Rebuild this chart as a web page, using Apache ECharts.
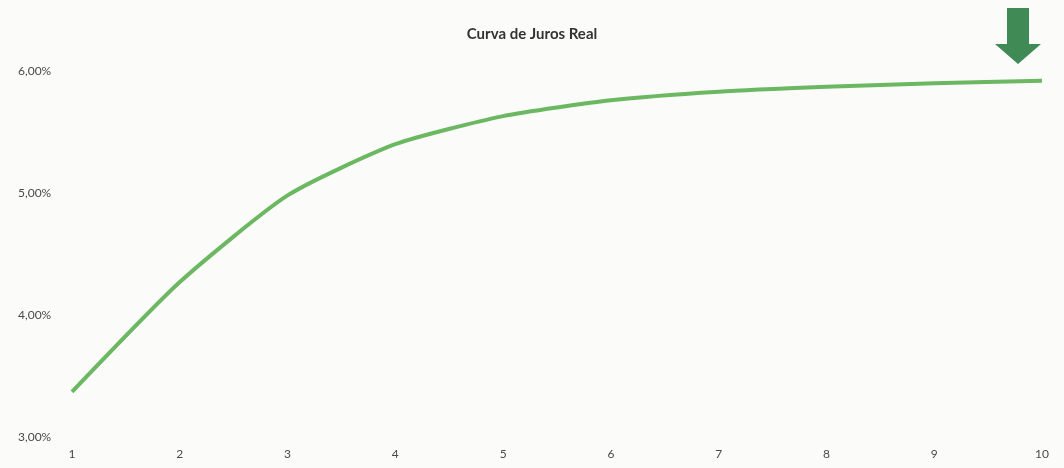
<!DOCTYPE html>
<html>
<head>
<meta charset="utf-8">
<title>Curva de Juros Real</title>
<script src="https://cdn.jsdelivr.net/npm/echarts@6/dist/echarts.min.js"></script>
<style>
  html, body { margin: 0; padding: 0; background: #fbfbf9; }
  #chart { width: 1064px; height: 468px; }
</style>
</head>
<body>
<div id="chart"></div>
<script>
// prazos (anos)
var prazos = ["1", "2", "3", "4", "5", "6", "7", "8", "9", "10"];
// taxa real (%)
var taxas = [3.37, 4.27, 4.98, 5.40, 5.63, 5.76, 5.83, 5.87, 5.90, 5.92];
// ticks do eixo y
var yTicks = [3, 4, 5, 6];

var chart = echarts.init(document.getElementById("chart"));
chart.setOption({
  backgroundColor: "#fbfbf9",
  textStyle: { fontFamily: "Lato, 'Open Sans', sans-serif" },
  title: {
    text: "Curva de Juros Real",
    left: "center",
    top: 22,
    textStyle: { fontSize: 15, fontWeight: "bold", color: "#333", fontFamily: "Lato, sans-serif" }
  },
  grid: { left: 72, right: 22, top: 71, bottom: 31 },
  xAxis: {
    type: "category",
    data: prazos,
    boundaryGap: false,
    axisLine: { show: false },
    axisTick: { show: false },
    axisLabel: { color: "#4a4a4a", fontSize: 12, margin: 11 }
  },
  yAxis: {
    type: "value",
    min: yTicks[0],
    max: yTicks[yTicks.length - 1],
    interval: 1,
    splitLine: { show: false },
    axisLine: { show: false },
    axisTick: { show: false },
    axisLabel: {
      color: "#4a4a4a",
      fontSize: 12,
      align: "left",
      margin: 54,
      formatter: function (v) { return v.toFixed(2).replace(".", ",") + "%"; }
    }
  },
  series: [{
    type: "line",
    data: taxas,
    smooth: 0.2,
    symbol: "none",
    lineStyle: { color: "#6cb862", width: 4 }
  }],
  // seta verde no canto superior direito
  graphic: [{
    type: "polygon",
    shape: {
      points: [[1007, 8], [1029, 8], [1029, 44], [1041, 44], [1018, 64], [995, 44], [1007, 44]]
    },
    style: { fill: "#3f8a55" }
  }]
});
</script>
</body>
</html>
